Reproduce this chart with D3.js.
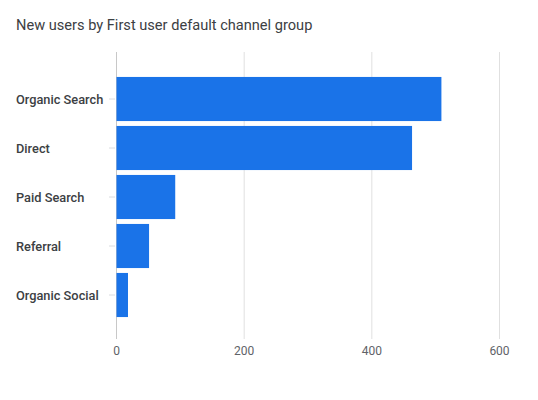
<!DOCTYPE html>
<html>
<head>
<meta charset="utf-8">
<script src="https://cdn.jsdelivr.net/npm/d3@7"></script>
<style>
  body { margin: 0; background: #fff; }
  text { font-family: Roboto, "Noto Sans", sans-serif; }
</style>
</head>
<body>
<div id="chart"></div>
<script>
// ---------- DATA ----------
var channels = ['Organic Search', 'Direct', 'Paid Search', 'Referral', 'Organic Social'];
var newUsers = [509, 463, 92, 51, 18];
var xTicks = [0, 200, 400, 600];

// ---------- CHART ----------
var width = 538, height = 400;

var svg = d3.select('#chart').append('svg')
    .attr('width', width)
    .attr('height', height);

var x = d3.scaleLinear()
    .domain([0, 600])
    .range([116.5, 499.5]);

var y = d3.scaleBand()
    .domain(channels)
    .range([74.5, 319.5])
    .paddingInner(0.1)
    .paddingOuter(0.05);

var gridTop = 52, gridBottom = 339;

// title
svg.append('text')
    .attr('x', 16)
    .attr('y', 30)
    .attr('fill', '#3c4043')
    .style('font-size', '14.6px')
    .text('New users by First user default channel group');

// vertical gridlines
svg.append('g').selectAll('line')
    .data(xTicks)
    .enter()
    .append('line')
        .attr('x1', function(d){ return x(d) })
        .attr('x2', function(d){ return x(d) })
        .attr('y1', gridTop)
        .attr('y2', gridBottom)
        .attr('stroke', function(d){ return d == 0 ? '#c8c8c8' : '#e0e0e0' })
        .attr('stroke-width', 1);

// bars
svg.append('g').selectAll('rect')
    .data(newUsers)
    .enter()
    .append('rect')
        .attr('x', x(0))
        .attr('y', function(d,i){ return y(channels[i]) })
        .attr('width', function(d){ return x(d) - x(0) })
        .attr('height', y.bandwidth())
        .attr('fill', '#1a73e8');

// y axis: tick marks and labels
var yAxis = svg.append('g');
yAxis.selectAll('line')
    .data(channels)
    .enter()
    .append('line')
        .attr('x1', 109)
        .attr('x2', 115)
        .attr('y1', function(d){ return y(d) + y.bandwidth() / 2 })
        .attr('y2', function(d){ return y(d) + y.bandwidth() / 2 })
        .attr('stroke', '#dadce0');
yAxis.selectAll('text')
    .data(channels)
    .enter()
    .append('text')
        .attr('x', 16)
        .attr('y', function(d){ return y(d) + y.bandwidth() / 2 + 0.5 })
        .attr('dy', '0.35em')
        .attr('fill', '#3c4043')
        .style('font-size', '12.8px')
        .style('font-weight', 500)
        .text(function(d){ return d });

// x axis labels
svg.append('g').selectAll('text')
    .data(xTicks)
    .enter()
    .append('text')
        .attr('x', function(d){ return x(d) })
        .attr('y', 351)
        .attr('dy', '0.35em')
        .attr('text-anchor', 'middle')
        .attr('fill', '#5f6368')
        .style('font-size', '12px')
        .text(function(d){ return d });
</script>
</body>
</html>
